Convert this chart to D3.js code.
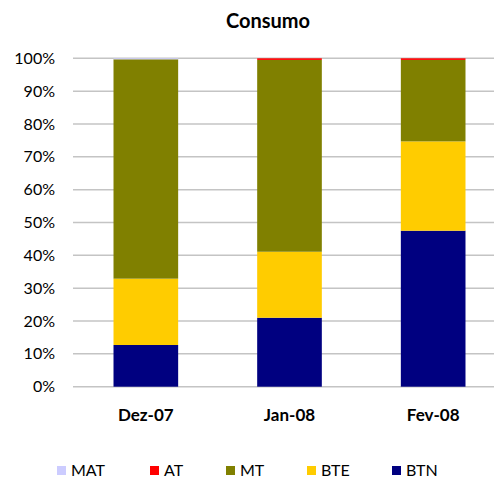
<!DOCTYPE html>
<html>
<head>
<meta charset="utf-8">
<script src="https://cdn.jsdelivr.net/npm/d3@7/dist/d3.min.js"></script>
<style>
  html, body { margin: 0; padding: 0; background: #fff; }
  svg { display: block; font-family: "Lato", "Open Sans", sans-serif; }
</style>
</head>
<body>
<svg id="chart" width="494" height="479"></svg>
<script>
// Share of consumption by voltage level, per month (percent)
const months = ["Dez-07", "Jan-08", "Fev-08"];
const seriesNames = ["BTN", "BTE", "MT", "AT", "MAT"];
const BTN = [12.7, 21.0, 47.5];
const BTE = [20.2, 20.1, 27.2];
const MT  = [66.8, 58.4, 24.8];
const AT  = [0.0, 0.5, 0.5];
const MAT = [0.3, 0.0, 0.0];
const yTicks = [0, 10, 20, 30, 40, 50, 60, 70, 80, 90, 100];
const legendOrder = ["MAT", "AT", "MT", "BTE", "BTN"];

const colors = {
  BTN: "#000080",
  BTE: "#ffcc00",
  MT:  "#808000",
  AT:  "#ff0000",
  MAT: "#ccccff"
};

const valuesBySeries = { BTN, BTE, MT, AT, MAT };
const rows = months.map((m, i) => {
  const r = { month: m };
  seriesNames.forEach(s => { r[s] = valuesBySeries[s][i]; });
  return r;
});

const svg = d3.select("#chart");
const plotLeft = 73, plotRight = 494, plotTop = 58.3, plotBottom = 386.7;

const x = d3.scaleBand()
  .domain(months)
  .range([74, 505])
  .paddingInner(0.55)
  .paddingOuter(0.275);

const y = d3.scaleLinear().domain([0, 100]).range([plotBottom, plotTop]);

// Horizontal gridlines
svg.append("g")
  .selectAll("line")
  .data(yTicks)
  .join("line")
  .attr("x1", plotLeft)
  .attr("x2", plotRight)
  .attr("y1", d => y(d))
  .attr("y2", d => y(d))
  .attr("stroke", "#c4c4c4")
  .attr("stroke-width", 1.5);

// Y axis labels
const yAxis = d3.axisLeft(y)
  .tickValues(yTicks)
  .tickFormat(d => d + "%")
  .tickSize(0)
  .tickPadding(0);
const yg = svg.append("g")
  .attr("transform", `translate(55,0)`)
  .call(yAxis);
yg.select(".domain").remove();
yg.selectAll("text")
  .attr("font-size", 16)
  .attr("fill", "#000")
  .attr("font-family", "Lato, sans-serif");

// Stacked bars
const stack = d3.stack().keys(seriesNames);
const layers = stack(rows);

svg.append("g")
  .selectAll("g")
  .data(layers)
  .join("g")
  .attr("fill", d => colors[d.key])
  .selectAll("rect")
  .data(d => d)
  .join("rect")
  .attr("x", d => x(d.data.month))
  .attr("width", x.bandwidth())
  .attr("y", d => y(d[1]))
  .attr("height", d => y(d[0]) - y(d[1]));

// X axis labels
const xAxis = d3.axisBottom(x).tickSize(0).tickPadding(0);
const xg = svg.append("g")
  .attr("transform", `translate(0,409)`)
  .call(xAxis);
xg.select(".domain").remove();
xg.selectAll("text")
  .attr("font-size", 17)
  .attr("font-weight", "bold")
  .attr("fill", "#000")
  .attr("font-family", "Lato, sans-serif");

// Title
svg.append("text")
  .attr("x", 268)
  .attr("y", 28)
  .attr("text-anchor", "middle")
  .attr("font-size", 20)
  .attr("font-weight", "bold")
  .text("Consumo");

// Legend: swatch + label, entries left to right
const legendX = [57, 150, 226, 307, 392];
const legend = svg.append("g");
const items = legend.selectAll("g")
  .data(legendOrder)
  .join("g")
  .attr("transform", (d, i) => `translate(${legendX[i]},0)`);
items.append("rect")
  .attr("x", 0)
  .attr("y", 466)
  .attr("width", 9)
  .attr("height", 9)
  .attr("fill", d => colors[d]);
items.append("text")
  .attr("x", 14)
  .attr("y", 475.5)
  .attr("font-size", 16)
  .attr("fill", "#000")
  .text(d => d);
</script>
</body>
</html>
